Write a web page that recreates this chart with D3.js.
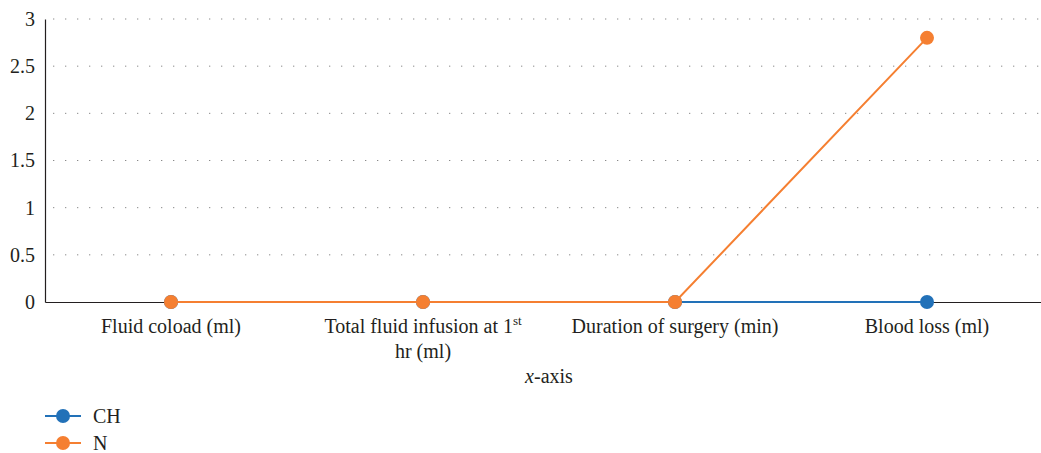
<!DOCTYPE html>
<html>
<head>
<meta charset="utf-8">
<script src="https://cdn.jsdelivr.net/npm/d3@7"></script>
<style>
  body { margin: 0; background: #fff; }
</style>
</head>
<body>
<svg id="chart" width="1041" height="453"></svg>
<script>
// categories (the 2nd one gets a superscript "st" when drawn)
const categories = ["Fluid coload (ml)", "Total fluid infusion at 1st hr (ml)", "Duration of surgery (min)", "Blood loss (ml)"];
const chValues = [0, 0, 0, 0];
const nValues = [0, 0, 0, 2.8];
const yTicks = [0, 0.5, 1, 1.5, 2, 2.5, 3];
const seriesNames = ["CH", "N"];
const seriesColors = ["#2271b8", "#f57f31"];

const FONT = "'Liberation Serif', 'Times New Roman', serif";
const FS = "20px";
const INK = "#231f20";

const svg = d3.select("#chart");
const margin = { top: 19, left: 45, bottom: 302, right: 1053 };

const x = d3.scaleBand()
  .domain(categories)
  .range([margin.left, margin.right]);

const y = d3.scaleLinear()
  .domain([0, 3])
  .range([margin.bottom, margin.top]);

const cx = c => x(c) + x.bandwidth() / 2;

// dotted gridlines
svg.append("g")
  .selectAll("line")
  .data(yTicks.filter(d => d > 0))
  .enter()
  .append("line")
  .attr("x1", margin.left + 8)
  .attr("x2", 1041)
  .attr("y1", d => y(d))
  .attr("y2", d => y(d))
  .attr("stroke", "#8a8a8a")
  .attr("stroke-width", 1)
  .attr("stroke-dasharray", "1.3,10.7");

// y axis
const yAxis = svg.append("g")
  .attr("transform", `translate(${margin.left},0)`)
  .call(d3.axisLeft(y).tickValues(yTicks).tickSize(0).tickPadding(10).tickFormat(d => String(d)));
yAxis.attr("font-family", null).attr("font-size", null);
yAxis.select(".domain").attr("stroke", INK).attr("stroke-width", 1.2);
yAxis.selectAll("text")
  .attr("fill", INK)
  .style("font-family", FONT)
  .style("font-size", FS);

// x axis
const xAxis = svg.append("g")
  .attr("transform", `translate(0,${margin.bottom})`)
  .call(d3.axisBottom(x).tickSize(0).tickFormat(""));
xAxis.select(".domain").attr("stroke", INK).attr("stroke-width", 1.2);

function addText(g, px, py) {
  return g.append("text")
    .attr("x", px)
    .attr("y", py)
    .attr("fill", INK)
    .style("font-family", FONT)
    .style("font-size", FS);
}

// category labels
const labelG = svg.append("g").attr("text-anchor", "middle");
categories.forEach((c, i) => {
  const t = addText(labelG, cx(c), 333);
  if (i === 1) {
    t.append("tspan").text("Total fluid infusion at 1");
    t.append("tspan").text("st").attr("dy", -8).style("font-size", "13px");
    addText(labelG, cx(c), 358).text("hr (ml)");
  } else {
    t.text(c);
  }
});

// x axis title
const xt = addText(svg, (margin.left + margin.right) / 2, 383).attr("text-anchor", "middle");
xt.append("tspan").text("x").style("font-style", "italic");
xt.append("tspan").text("-axis");

// lines
const line = d3.line()
  .x((d, i) => cx(categories[i]))
  .y(d => y(d));

[chValues, nValues].forEach((vals, s) => {
  svg.append("path")
    .datum(vals)
    .attr("fill", "none")
    .attr("stroke", seriesColors[s])
    .attr("stroke-width", 2)
    .attr("d", line);
  svg.append("g")
    .selectAll("circle")
    .data(vals)
    .enter()
    .append("circle")
    .attr("cx", (d, i) => cx(categories[i]))
    .attr("cy", d => y(d))
    .attr("r", 7)
    .attr("fill", seriesColors[s]);
});

// legend
const legend = svg.append("g");
seriesNames.forEach((name, i) => {
  const ly = 416 + i * 27;
  legend.append("line")
    .attr("x1", 45).attr("x2", 81)
    .attr("y1", ly).attr("y2", ly)
    .attr("stroke", seriesColors[i])
    .attr("stroke-width", 2);
  legend.append("circle")
    .attr("cx", 63).attr("cy", ly).attr("r", 7)
    .attr("fill", seriesColors[i]);
  addText(legend, 93, ly + 7).text(name);
});
</script>
</body>
</html>
